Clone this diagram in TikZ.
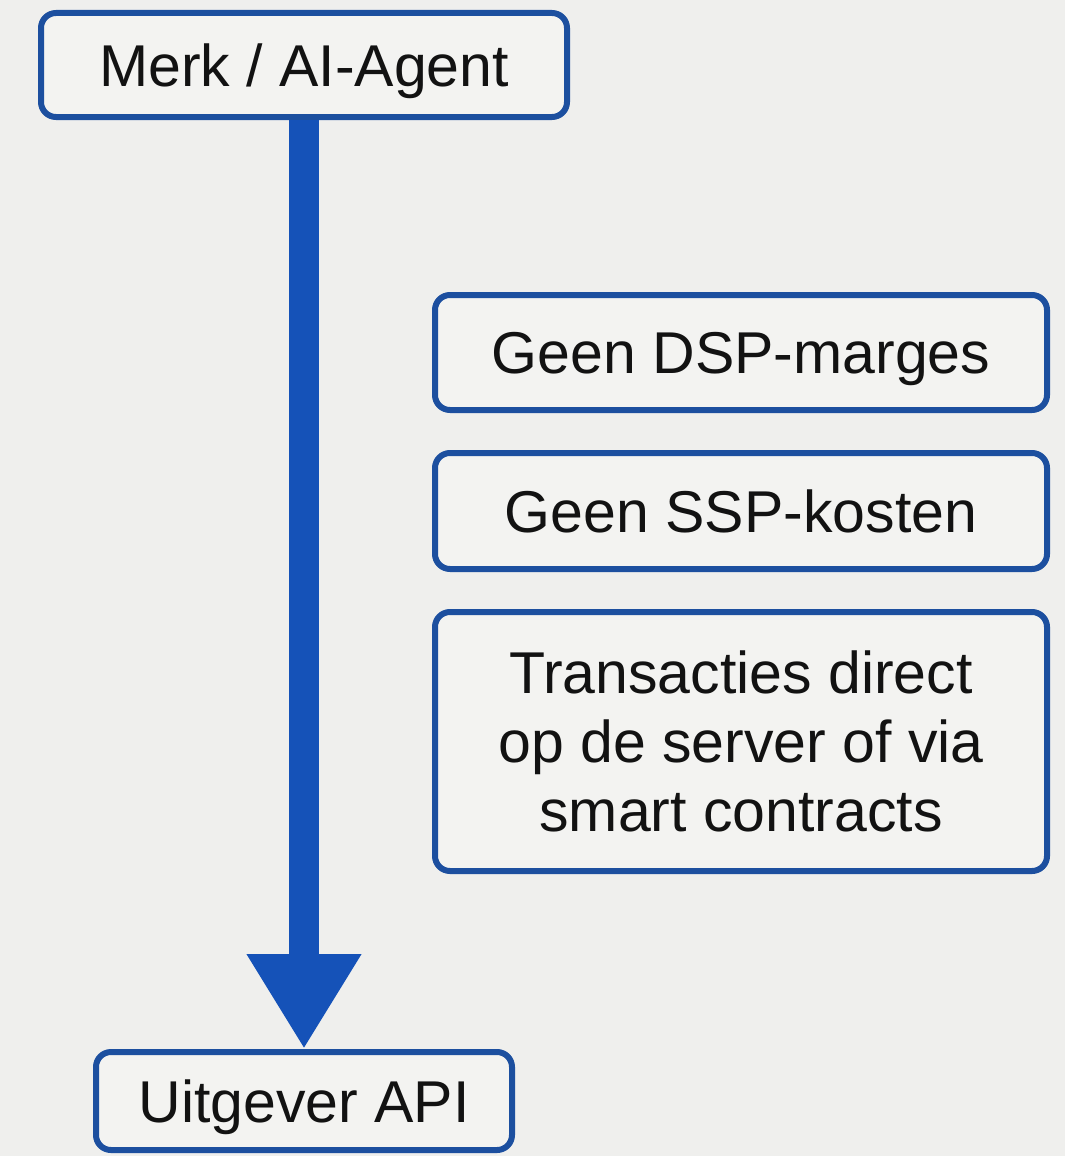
\documentclass[tikz,border=0pt]{standalone}
\usepackage{fontspec}
\setmainfont{Liberation Sans}
\usetikzlibrary{arrows.meta}
\definecolor{bg}{HTML}{EFEFED}
\definecolor{boxfill}{HTML}{F3F3F1}
\definecolor{edgeblue}{HTML}{1C4F9F}
\definecolor{flowblue}{HTML}{1552B8}
\definecolor{ink}{HTML}{121212}
\tikzset{
  card/.style={draw=edgeblue, line width=6pt, fill=boxfill, rounded corners=15pt,
    text=ink, font=\fontsize{59}{69}\selectfont, align=center, inner sep=0pt},
  oneline/.style={card, text depth=0pt},
  flow/.style={draw=flowblue, line width=30pt,
    -{Triangle[length=95pt,width=108pt,fill=flowblue]}}
}
\begin{document}
\begin{tikzpicture}[x=1pt,y=1pt]
  % canvas
  \fill[bg] (0,0) rectangle (1065,-1156);
  \useasboundingbox (0,0) rectangle (1065,-1156);

  % source and target
  \node[oneline, minimum width=526pt, minimum height=104pt] (agent) at (304,-65) {Merk / AI-Agent};
  \node[oneline, minimum width=416pt, minimum height=98pt] (api) at (304,-1101) {Uitgever API};

  % benefits
  \node[oneline, minimum width=612pt, minimum height=115pt] (dsp) at (741,-352.5) {Geen DSP-marges};
  \node[oneline, minimum width=612pt, minimum height=116pt] (ssp) at (741,-511) {Geen SSP-kosten};
  \node[card, minimum width=612pt, minimum height=259pt] (tx) at (741,-741.5)
    {Transacties direct\\op de server of via\\smart contracts};

  % direct flow
  \draw[flow] (agent.south) -- (api.north);
\end{tikzpicture}
\end{document}
